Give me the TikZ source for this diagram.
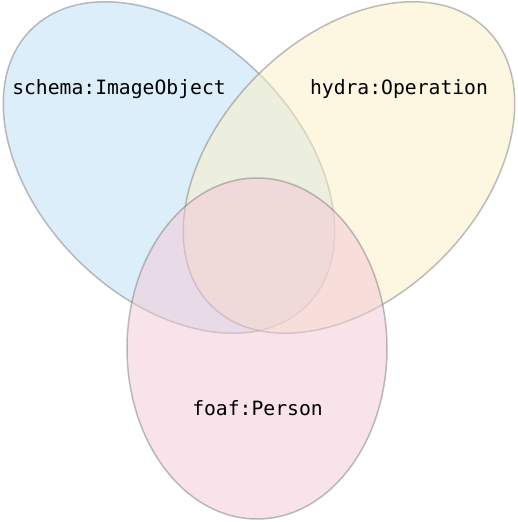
\documentclass[tikz,border=0pt]{standalone}
\usepackage{fontspec}
\setmonofont{DejaVu Sans Mono}
\usepackage{tikz}
\definecolor{setblue}{RGB}{186,223,247}
\definecolor{setyellow}{RGB}{253,238,196}
\definecolor{setpink}{RGB}{245,200,214}
\definecolor{setline}{RGB}{125,125,125}

\begin{document}
\begin{tikzpicture}[
		x=1pt, y=-1pt,
		set/.style={draw=setline, draw opacity=0.5, line width=1.5pt, fill opacity=0.5},
		setlabel/.style={font=\fontsize{19.7}{24}\selectfont\ttfamily, text=black}]
		\useasboundingbox (0,0) rectangle (517,522);
		\fill[white] (0,0) rectangle (517,522);
		% the three sets
		\draw[set, fill=setblue, rotate around={45:(169,167.5)}] (169,167.5) ellipse [x radius=130, y radius=195];
		\draw[set, fill=setyellow, rotate around={-45:(349,167.5)}] (349,167.5) ellipse [x radius=130, y radius=195];
		\draw[set, fill=setpink] (257,348.5) ellipse [x radius=130, y radius=170.5];
		\node[setlabel] (image) at (119,89) {schema:ImageObject};
		\node[setlabel] (operation) at (399,89) {hydra:Operation};
		\node[setlabel] (person) at (257.5,408.5) {foaf:Person};
	\end{tikzpicture}
\end{document}
